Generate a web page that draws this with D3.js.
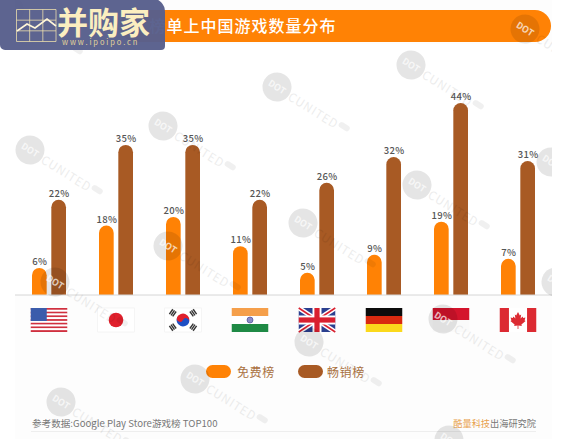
<!DOCTYPE html>
<html>
<head>
<meta charset="utf-8">
<script src="https://cdn.jsdelivr.net/npm/d3@7"></script>
<style>
  html, body { margin: 0; padding: 0; background: #fff; }
  svg { display: block; }
  text { font-family: "Noto Sans CJK SC", "Noto Sans", sans-serif; }
</style>
</head>
<body>
<script>
const countries = ["US", "JP", "KR", "IN", "GB", "DE", "ID", "CA"];
const seriesNames = ["免费榜", "畅销榜"];

// printed percentages
const freeLabels = ["6%", "18%", "20%", "11%", "5%", "9%", "19%", "7%"];
const paidLabels = ["22%", "35%", "35%", "22%", "26%", "32%", "44%", "31%"];

// bar heights as drawn (not always equal to the printed number)
const freeValues = [6.2, 15.9, 17.9, 11.2, 5.1, 9.2, 16.8, 8.3];
const paidValues = [21.8, 34.4, 34.4, 21.8, 25.7, 31.6, 44, 30.7];

const titleText = "榜单上中国游戏数量分布";
const sourceText = "参考数据:Google Play Store游戏榜 TOP100";

// watermark stamps, circle centres
const stampX = [10, 30, 163, 277, 411, 525, 168, 303, 417, 551, 55, 556, 195, 61, 309, 443, 449, 255];
const stampY = [10, 150, 126, 87, 65, 29, 246, 223, 185, 162, 282, 282, 379, 402, 342, 319, 440, -47];

const FREE = "#ff8205";
const PAID = "#a85a24";

const width = 586, height = 439;
const baseY = 295;

const svg = d3.select("body").append("svg")
    .attr("width", width)
    .attr("height", height);

svg.append("clipPath").attr("id", "stampClip")
    .append("rect").attr("x", 15).attr("y", 0).attr("width", 537).attr("height", height);

const xScale = d3.scaleBand().domain(countries).range([15.5, 551.5]);
const subScale = d3.scaleBand().domain(seriesNames).range([-17, 17]).paddingInner(0.24);
const yScale = d3.scaleLinear().domain([0, 44]).range([baseY, 103]);

function centerOf(c) {
    return xScale(c) + xScale.bandwidth() / 2;
}

function roundTopBar(x, y, w) {
    const p = d3.path();
    const r = w / 2;
    p.moveTo(x, baseY);
    p.lineTo(x, y + r);
    p.arc(x + r, y + r, r, Math.PI, 0);
    p.lineTo(x + w, baseY);
    p.closePath();
    return p.toString();
}

function renderBackground() {
    svg.append("rect").attr("x", 15).attr("y", 0).attr("width", 537).attr("height", height).attr("fill", "#fdfdfd");
    svg.append("rect").attr("x", 15).attr("y", 44).attr("width", 537).attr("height", baseY - 44).attr("fill", "#fff");
}

function renderTitleBar() {
    svg.append("rect")
        .attr("x", 120).attr("y", 10).attr("width", 431).attr("height", 32)
        .attr("rx", 16).attr("fill", FREE);
    svg.append("text")
        .attr("x", 149.5).attr("y", 32)
        .attr("font-size", 16).attr("font-weight", 500)
        .attr("letter-spacing", 1)
        .attr("fill", "#fff")
        .text(titleText);
}

function renderBars(values, labels, name, color) {
    const w = subScale.bandwidth();
    svg.append("g").selectAll("path")
        .data(countries)
        .enter()
        .append("path")
        .attr("fill", color)
        .attr("d", (d, i) => roundTopBar(centerOf(d) + subScale(name), yScale(values[i]), w));

    svg.append("g").selectAll("text")
        .data(countries)
        .enter()
        .append("text")
        .attr("x", (d) => centerOf(d) + subScale(name) + w / 2 + 0.5)
        .attr("y", (d, i) => yScale(values[i]) - 3)
        .attr("text-anchor", "middle")
        .attr("font-family", "'Noto Sans', sans-serif")
        .attr("font-size", 9.5).attr("font-weight", 500)
        .attr("letter-spacing", 0.3)
        .attr("fill", "#555")
        .text((d, i) => labels[i]);
}

function renderAxisLine() {
    svg.append("line")
        .attr("x1", 15).attr("x2", 552).attr("y1", baseY).attr("y2", baseY)
        .attr("stroke", "#d6d6d6").attr("stroke-width", 1);
}

function band(g, y, h, color) {
    g.append("rect").attr("x", 0).attr("y", y).attr("width", 36.5).attr("height", h).attr("fill", color);
}

function renderFlags() {
    const flagW = 36.5, flagH = 24;
    const draw = {
        US(g) {
            d3.range(13).forEach((i) => band(g, i * flagH / 13, flagH / 13, i % 2 ? "#fff" : "#d0303f"));
            g.append("rect").attr("width", 16).attr("height", 13).attr("fill", "#3b5cab");
        },
        JP(g) {
            band(g, 0, flagH, "#fff");
            g.append("rect").attr("width", flagW).attr("height", flagH).attr("fill", "none").attr("stroke", "#eee").attr("stroke-width", 0.6);
            g.append("circle").attr("cx", flagW / 2).attr("cy", flagH / 2).attr("r", 7.3).attr("fill", "#e0202c");
        },
        KR(g) {
            band(g, 0, flagH, "#fff");
            g.append("rect").attr("width", flagW).attr("height", flagH).attr("fill", "none").attr("stroke", "#eee").attr("stroke-width", 0.6);
            const c = g.append("g").attr("transform", `translate(${flagW / 2},${flagH / 2}) rotate(25)`);
            c.append("path").attr("d", d3.arc()({innerRadius: 0, outerRadius: 6.4, startAngle: -Math.PI / 2, endAngle: Math.PI / 2})).attr("fill", "#e0202c");
            c.append("path").attr("d", d3.arc()({innerRadius: 0, outerRadius: 6.4, startAngle: Math.PI / 2, endAngle: 3 * Math.PI / 2})).attr("fill", "#1d4fc4");
            c.append("circle").attr("cx", -3.2).attr("r", 3.2).attr("fill", "#e0202c");
            c.append("circle").attr("cx", 3.2).attr("r", 3.2).attr("fill", "#1d4fc4");
            [35, 145, 215, 325].forEach((a) => {
                const t = g.append("g").attr("transform", `translate(${flagW / 2},${flagH / 2}) rotate(${a}) translate(12.5,0)`);
                [-2, 0, 2].forEach((o) => t.append("rect").attr("x", o - 0.7).attr("y", -3).attr("width", 1.4).attr("height", 6).attr("fill", "#333"));
            });
        },
        IN(g) {
            band(g, 0, 8, "#f59f4a");
            band(g, 8, 8, "#fff");
            band(g, 16, 8, "#1f8a45");
            g.append("circle").attr("cx", flagW / 2).attr("cy", 12).attr("r", 3).attr("fill", "#8d8dc8").attr("stroke", "#3a3a8c").attr("stroke-width", 0.6);
        },
        GB(g) {
            band(g, 0, flagH, "#2b3f8f");
            const diag = [[0, 0, flagW, flagH], [0, flagH, flagW, 0]];
            diag.forEach((d) => g.append("line").attr("x1", d[0]).attr("y1", d[1]).attr("x2", d[2]).attr("y2", d[3]).attr("stroke", "#fff").attr("stroke-width", 4.5));
            diag.forEach((d) => g.append("line").attr("x1", d[0]).attr("y1", d[1]).attr("x2", d[2]).attr("y2", d[3]).attr("stroke", "#d9202f").attr("stroke-width", 1.5));
            g.append("rect").attr("x", flagW / 2 - 4.5).attr("width", 9).attr("height", flagH).attr("fill", "#fff");
            band(g, flagH / 2 - 4.5, 9, "#fff");
            g.append("rect").attr("x", flagW / 2 - 2.6).attr("width", 5.2).attr("height", flagH).attr("fill", "#d9202f");
            band(g, flagH / 2 - 2.6, 5.2, "#d9202f");
        },
        DE(g) {
            band(g, 0, 8, "#0c0c0c");
            band(g, 8, 8, "#d92a10");
            band(g, 16, 8, "#fbd91c");
        },
        ID(g) {
            band(g, 0, 12, "#d4142c");
            band(g, 12, 12, "#fafafa");
        },
        CA(g) {
            band(g, 0, flagH, "#fff");
            g.append("rect").attr("width", 9.2).attr("height", flagH).attr("fill", "#dc2a32");
            g.append("rect").attr("x", flagW - 9.2).attr("width", 9.2).attr("height", flagH).attr("fill", "#dc2a32");
            g.append("path")
                .attr("transform", `translate(${flagW / 2},12)`)
                .attr("d", "M0,-8 L1.8,-4.6 L3.2,-5.4 L2.6,-1.6 L4.6,-3.4 L5.2,-2 L7.4,-2.4 L6.6,0.4 L7.6,1 L3.4,4.4 L3.8,6 L0.4,5.4 L0.4,9 L-0.4,9 L-0.4,5.4 L-3.8,6 L-3.4,4.4 L-7.6,1 L-6.6,0.4 L-7.4,-2.4 L-5.2,-2 L-4.6,-3.4 L-2.6,-1.6 L-3.2,-5.4 L-1.8,-4.6 Z")
                .attr("fill", "#dc2a32");
        }
    };
    countries.forEach((c) => {
        const g = svg.append("g").attr("transform", `translate(${centerOf(c) - flagW / 2},308)`);
        draw[c](g);
    });
}

function renderLegend() {
    const items = [
        {name: seriesNames[0], color: FREE, x: 206},
        {name: seriesNames[1], color: PAID, x: 298}
    ];
    items.forEach((d) => {
        svg.append("rect")
            .attr("x", d.x).attr("y", 365).attr("width", 25).attr("height", 13)
            .attr("rx", 6.5).attr("fill", d.color);
        svg.append("text")
            .attr("x", d.x + (d.x === 206 ? 31 : 29)).attr("y", 376.5)
            .attr("font-size", 12).attr("letter-spacing", 0.6)
            .attr("fill", "#a9703f")
            .text(d.name);
    });
}

function renderFooter() {
    svg.append("text")
        .attr("x", 32).attr("y", 427)
        .attr("font-size", 9.6)
        .attr("fill", "#777")
        .text(sourceText);

    const right = svg.append("text")
        .attr("x", 536).attr("y", 427)
        .attr("text-anchor", "end")
        .attr("font-size", 9.2);
    right.append("tspan").attr("fill", "#e8a24e").text("酷量科技");
    right.append("tspan").attr("fill", "#777").text("出海研究院");

    svg.append("line")
        .attr("x1", 31).attr("x2", 536).attr("y1", 431.5).attr("y2", 431.5)
        .attr("stroke", "#eeeeee").attr("stroke-width", 1);
}

function renderStamps() {
    const layer = svg.append("g").attr("clip-path", "url(#stampClip)");
    stampX.forEach((x, i) => {
        const g = layer.append("g")
            .attr("transform", `translate(${x},${stampY[i]}) rotate(32)`);
        g.append("circle").attr("r", 14.5).attr("fill", "#000").attr("opacity", 0.1);
        g.append("text")
            .attr("text-anchor", "middle").attr("y", 3.2)
            .attr("font-family", "'Noto Sans', sans-serif")
            .attr("font-size", 9).attr("font-weight", 600)
            .attr("fill", "#fff").attr("opacity", 0.7)
            .text("DOT");
        g.append("text")
            .attr("x", 15).attr("y", 5)
            .attr("font-family", "'Noto Sans', sans-serif")
            .attr("font-size", 12).attr("letter-spacing", 0.8)
            .attr("fill", "#000").attr("opacity", 0.07)
            .text("CUNITED");
        g.append("rect")
            .attr("x", 72).attr("y", -5).attr("width", 12).attr("height", 6)
            .attr("rx", 3).attr("fill", "#000").attr("opacity", 0.06);
    });
}

function renderLogo() {
    const g = svg.append("g");
    const p = d3.path();
    p.moveTo(0, -2);
    p.lineTo(151, -2);
    p.arcTo(165, -2, 165, 12, 14);
    p.lineTo(165, 46);
    p.arcTo(165, 50, 161, 50, 4);
    p.lineTo(5, 50);
    p.arcTo(0, 50, 0, 45, 5);
    p.closePath();
    g.append("path")
        .attr("d", p.toString())
        .attr("fill", "#585f8c").attr("opacity", 0.97);

    const cream = "#f3e4ae";
    const gridX = d3.scaleLinear().domain([0, 3]).range([16.5, 56]);
    const gridY = d3.scaleLinear().domain([0, 3]).range([9.5, 41.5]);
    d3.range(4).forEach((i) => {
        g.append("line").attr("x1", gridX(i)).attr("x2", gridX(i)).attr("y1", 9.5).attr("y2", 41.5)
            .attr("stroke", cream).attr("stroke-opacity", 0.75).attr("stroke-width", 1);
        g.append("line").attr("x1", 16.5).attr("x2", 56).attr("y1", gridY(i)).attr("y2", gridY(i))
            .attr("stroke", cream).attr("stroke-opacity", 0.75).attr("stroke-width", 1);
    });
    g.append("path")
        .attr("d", d3.line()([[17, 31], [27, 24], [35, 28], [47, 19], [56, 26]]))
        .attr("fill", "none").attr("stroke", "#fff6d8").attr("stroke-width", 1.6);

    g.append("text")
        .attr("x", 57).attr("y", 33.5)
        .attr("font-size", 31).attr("font-weight", 700)
        .attr("fill", "#fbeec0")
        .text("并购家");
    g.append("text")
        .attr("x", 62).attr("y", 44.5)
        .attr("font-family", "'Noto Sans', sans-serif")
        .attr("font-size", 7.5).attr("letter-spacing", 1.9)
        .attr("fill", "#e4d49a")
        .text("www.ipoipo.cn");
}

renderBackground();
renderTitleBar();
renderBars(freeValues, freeLabels, seriesNames[0], FREE);
renderBars(paidValues, paidLabels, seriesNames[1], PAID);
renderAxisLine();
renderFlags();
renderLegend();
renderFooter();
renderStamps();
renderLogo();
</script>
</body>
</html>
